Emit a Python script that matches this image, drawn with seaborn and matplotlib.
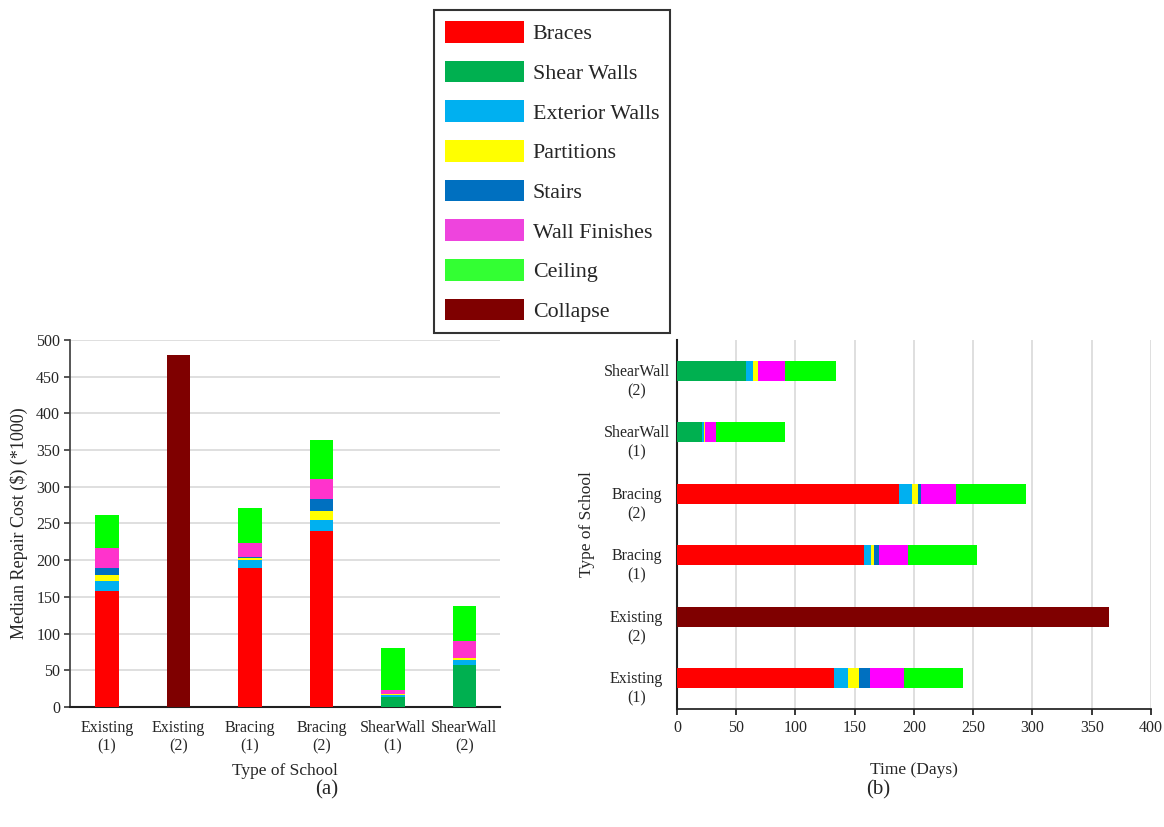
import numpy as np
import pandas as pd
import seaborn as sns
import matplotlib
matplotlib.use("Agg")
import matplotlib.pyplot as plt
import matplotlib.transforms as mtransforms
from matplotlib.patches import Patch

sns.set_theme(style="white")
plt.rcParams["font.family"] = ["Liberation Serif", "DejaVu Serif"]

# Categories (bottom-to-top stacking order of components)
schools = ["Existing\n(1)", "Existing\n(2)", "Bracing\n(1)", "Bracing\n(2)",
           "ShearWall\n(1)", "ShearWall\n(2)"]
components = ["Braces", "Shear Walls", "Exterior Walls", "Partitions",
              "Stairs", "Wall Finishes", "Ceiling", "Collapse"]

# (a) Median repair cost ($ x 1000)
cost_braces = [158, 0, 190, 240, 0, 0]
cost_shear = [0, 0, 0, 0, 14, 57.5]
cost_ext = [13, 0, 10, 15, 2.5, 7]
cost_part = [9, 0, 3.5, 12, 1, 2.5]
cost_stairs = [10, 0, 1, 17, 0, 0]
cost_finish = [27, 0, 18.5, 27, 5, 23]
cost_ceiling = [44, 0, 48, 53, 57.5, 47]
cost_collapse = [0, 480, 0, 0, 0, 0]

# (b) Repair time (days)
time_braces = [132.5, 0, 157.6, 187.6, 0, 0]
time_shear = [0, 0, 0, 0, 21.3, 58.4]
time_ext = [12, 0, 6.4, 10.7, 1.7, 5.9]
time_part = [9, 0, 2.3, 5.4, 1, 3.7]
time_stairs = [9, 0, 4.2, 2.2, 0, 0.5]
time_finish = [29.2, 0, 24.2, 29.8, 9.3, 22.8]
time_ceiling = [50, 0, 58.7, 59.2, 58, 43]
time_collapse = [0, 365, 0, 0, 0, 0]

colors_a = {"Braces": "#FF0000", "Shear Walls": "#00B050", "Exterior Walls": "#00B0F0",
            "Partitions": "#FFFF00", "Stairs": "#0070C0", "Wall Finishes": "#FF33CC",
            "Ceiling": "#00FF00", "Collapse": "#7F0000"}
colors_b = dict(colors_a, **{"Wall Finishes": "#FF00FF"})
legend_colors = dict(colors_a, **{"Wall Finishes": "#EE44DD", "Ceiling": "#33FF33"})

cost = pd.DataFrame({"school": schools, "Braces": cost_braces, "Shear Walls": cost_shear,
                     "Exterior Walls": cost_ext, "Partitions": cost_part,
                     "Stairs": cost_stairs, "Wall Finishes": cost_finish,
                     "Ceiling": cost_ceiling, "Collapse": cost_collapse})
time = pd.DataFrame({"school": schools, "Braces": time_braces, "Shear Walls": time_shear,
                     "Exterior Walls": time_ext, "Partitions": time_part,
                     "Stairs": time_stairs, "Wall Finishes": time_finish,
                     "Ceiling": time_ceiling, "Collapse": time_collapse})


def cumulative(df):
    cum = df[components].cumsum(axis=1)
    cum["school"] = df["school"]
    return cum


fig = plt.figure(figsize=(11.64, 8.27), dpi=100)
ax_a = fig.add_axes([0.0601, 0.1451, 0.3695, 0.4438])
ax_b = fig.add_axes([0.5816, 0.1427, 0.4072, 0.4462])

grid_c = "#D9D9D9"

# ---- (a) vertical stacked bars: draw cumulative totals from the top down
cum_a = cumulative(cost)
for comp in reversed(components):
    sns.barplot(data=cum_a, x="school", y=comp, order=schools, color=colors_a[comp],
                saturation=1, width=0.33, errorbar=None, ax=ax_a, linewidth=0, zorder=3)
ax_a.set_ylim(0, 500)
ax_a.set_yticks(np.arange(0, 501, 50))
ax_a.set_xlim(-0.52, 5.5)
ax_a.yaxis.grid(True, color=grid_c, linewidth=1.2, zorder=0)
ax_a.set_axisbelow(True)
for s in ["top", "right"]:
    ax_a.spines[s].set_visible(False)
ax_a.spines["left"].set_color("#404040")
ax_a.spines["bottom"].set_color("#202020")
ax_a.spines["bottom"].set_linewidth(1.5)
ax_a.tick_params(axis="y", left=True, length=4, color="#404040", labelsize=11.5, pad=3)
ax_a.tick_params(axis="x", bottom=False, labelsize=11.5, pad=3)
for lbl in ax_a.get_xticklabels():
    lbl.set_linespacing(1.25)
ax_a.set_xlabel("Type of School", fontsize=12.5, labelpad=6)
ax_a.set_ylabel("Median Repair Cost (\\$) (*1000)", fontsize=13, labelpad=6)

# ---- (b) horizontal stacked bars
order_b = list(reversed(schools))
cum_b = cumulative(time)
for comp in reversed(components):
    sns.barplot(data=cum_b, y="school", x=comp, order=order_b, orient="h",
                color=colors_b[comp], saturation=1, width=0.32, errorbar=None,
                ax=ax_b, linewidth=0, zorder=3)
ax_b.set_xlim(0, 400)
ax_b.set_xticks(np.arange(0, 401, 50))
ax_b.set_ylim(5.5, -0.5)
ax_b.xaxis.grid(True, color=grid_c, linewidth=1.2, zorder=0)
ax_b.set_axisbelow(True)
for s in ["top", "right"]:
    ax_b.spines[s].set_visible(False)
ax_b.spines["left"].set_color("#202020")
ax_b.spines["left"].set_linewidth(1.5)
ax_b.spines["bottom"].set_color("#202020")
ax_b.tick_params(axis="x", bottom=True, length=4, color="#202020", labelsize=11.5, pad=4)
ax_b.tick_params(axis="y", left=False, labelsize=11.5, pad=23)
shift_down = mtransforms.ScaledTranslation(0, -7 / 100, fig.dpi_scale_trans)
for lbl in ax_b.get_yticklabels():
    lbl.set_horizontalalignment("center")
    lbl.set_linespacing(1.3)
    lbl.set_transform(lbl.get_transform() + shift_down)
ax_b.set_xlabel("Time (Days)", fontsize=12.5, labelpad=19)
ax_b.set_ylabel("Type of School", fontsize=12.5, labelpad=6)

# Panel captions
fig.text(327 / 1164, 1 - 790 / 827, "(a)", fontsize=15, ha="center", va="center")
fig.text(878 / 1164, 1 - 790 / 827, "(b)", fontsize=15, ha="center", va="center")

# Shared legend
handles = [Patch(facecolor=legend_colors[c], edgecolor="none", label=c) for c in components]
leg = fig.legend(handles=handles, loc="upper left",
                 bbox_to_anchor=(434 / 1164, 1 - 10 / 827), frameon=True, fancybox=False,
                 fontsize=15.8, handlelength=3.6, handleheight=1.15, labelspacing=0.745,
                 handletextpad=0.4, borderpad=0.5, borderaxespad=0)
leg.get_frame().set_edgecolor("black")
leg.get_frame().set_linewidth(1.5)

fig.savefig("out.png", dpi=100)
